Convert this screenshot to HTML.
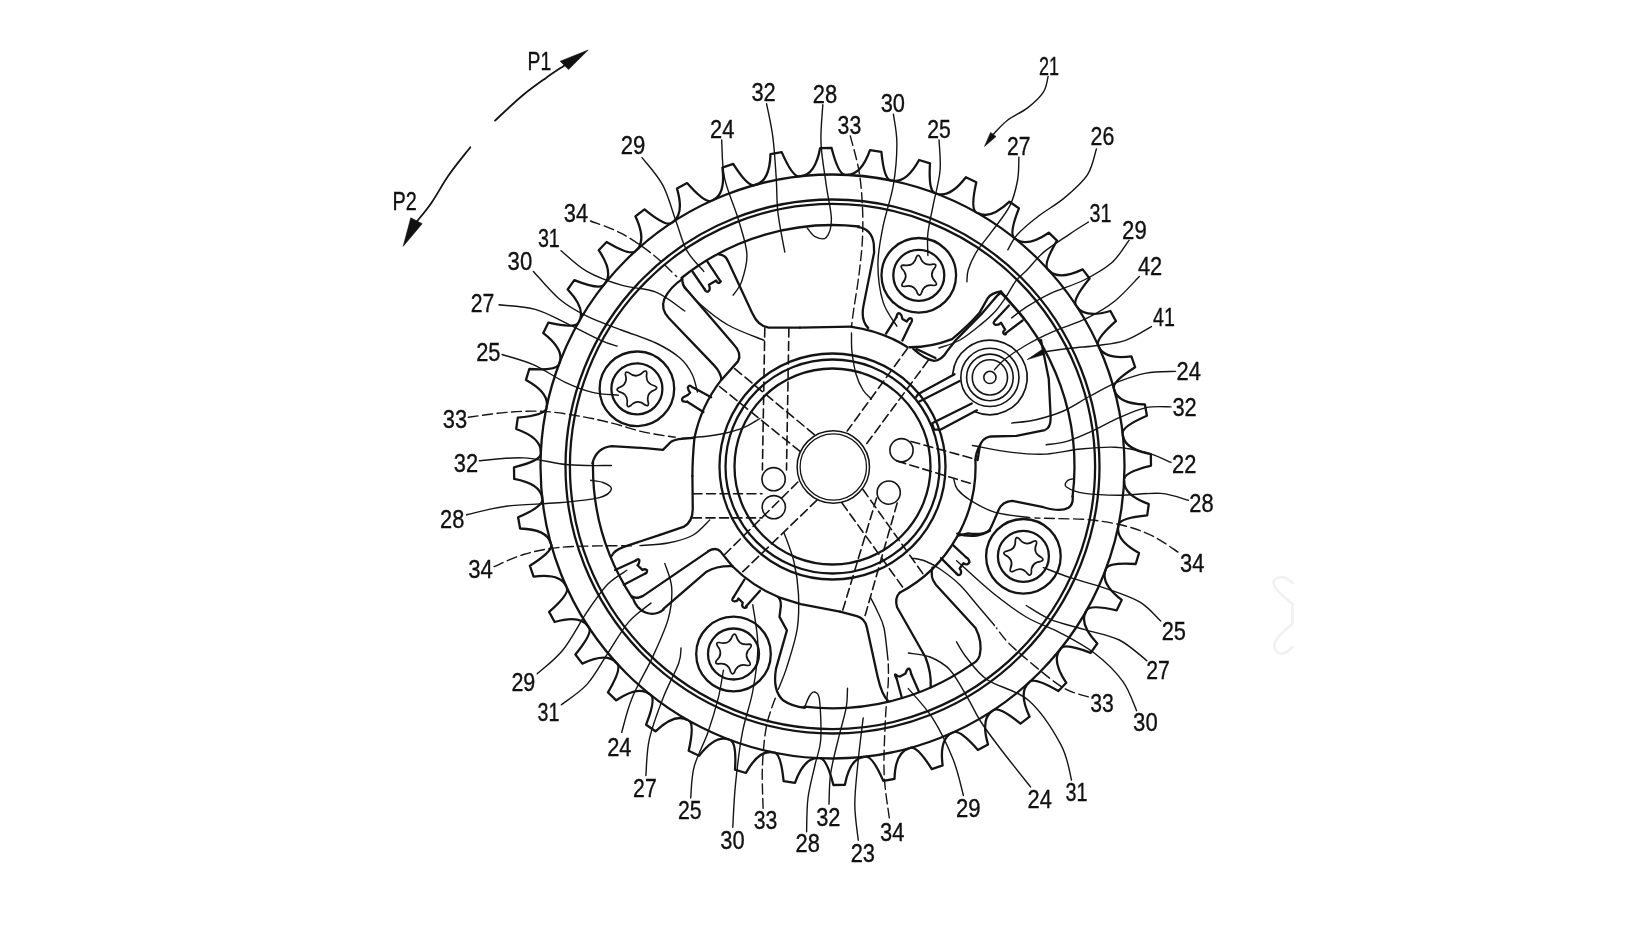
<!DOCTYPE html>
<html><head><meta charset="utf-8"><title>Sprocket</title>
<style>
html,body{margin:0;padding:0;background:#fff;}
body{width:1650px;height:928px;overflow:hidden;font-family:"Liberation Sans",sans-serif;}
svg{display:block;will-change:transform;transform:translateZ(0)}
svg path,svg circle{fill:none;stroke:#141414;stroke-linecap:round}
svg text{font-family:"Liberation Sans",sans-serif;fill:#111;stroke:#111;stroke-width:0.35px}
</style></head><body>
<svg width="1650" height="928" viewBox="0 0 1650 928">
<circle cx="832.5" cy="466.5" r="292.0" stroke-width="2.3"/>
<circle cx="832.5" cy="466.5" r="267.0" stroke-width="2.3"/>
<circle cx="832.5" cy="466.5" r="262.6" stroke-width="2.3"/>
<circle cx="832.5" cy="466.5" r="113.0" stroke-width="2.3"/>
<circle cx="832.5" cy="466.5" r="107.0" stroke-width="2.3"/>
<circle cx="832.5" cy="466.5" r="98.0" stroke-width="2.3"/>
<circle cx="833.3" cy="467.0" r="36.2" stroke-width="1.5"/>
<circle cx="833.3" cy="467.0" r="33.2" stroke-width="1.3"/>
<circle cx="773.6" cy="479.2" r="11.6" stroke-width="1.6"/>
<circle cx="773.8" cy="507.2" r="11.6" stroke-width="1.6"/>
<circle cx="901.5" cy="450.2" r="11.6" stroke-width="1.6"/>
<circle cx="888.7" cy="492.6" r="11.6" stroke-width="1.6"/>
<path d="M801.0 176.2 Q815.2 174.5 820.1 148.2 L831.6 148.0 Q838.1 173.6 844.7 174.8 M846.8 174.8 Q861.0 175.4 870.0 150.2 L881.4 151.8 Q883.9 178.0 890.2 180.3 M892.2 180.7 Q906.2 183.4 919.1 160.0 L930.0 163.3 Q928.4 189.6 934.3 192.8 M936.2 193.5 Q949.6 198.5 965.9 177.3 L976.3 182.3 Q970.5 208.0 975.8 212.1 M977.6 213.1 Q990.1 220.1 1009.5 201.7 L1018.9 208.3 Q1009.2 232.8 1013.9 237.7 M1015.5 238.9 Q1026.7 247.8 1048.8 232.7 L1057.0 240.6 Q1043.6 263.3 1047.4 268.9 M1048.8 270.4 Q1058.5 280.8 1082.7 269.4 L1089.6 278.5 Q1072.8 298.9 1075.7 304.9 M1076.8 306.6 Q1084.8 318.5 1110.4 311.0 L1115.9 321.1 Q1096.1 338.5 1098.0 344.9 M1098.8 346.8 Q1104.8 359.8 1131.4 356.4 L1135.1 367.2 Q1112.8 381.3 1113.7 388.0 M1114.3 389.9 Q1118.2 403.7 1144.9 404.5 L1146.9 415.7 Q1122.7 426.2 1122.6 432.9 M1122.8 435.0 Q1124.5 449.2 1150.8 454.1 L1151.0 465.6 Q1125.4 472.1 1124.2 478.7 M1124.2 480.8 Q1123.6 495.0 1148.8 504.0 L1147.2 515.4 Q1121.0 517.9 1118.7 524.2 M1118.3 526.2 Q1115.6 540.2 1139.0 553.1 L1135.7 564.0 Q1109.4 562.4 1106.2 568.3 M1105.5 570.2 Q1100.5 583.6 1121.7 599.9 L1116.7 610.3 Q1091.0 604.5 1086.9 609.8 M1085.9 611.6 Q1078.9 624.1 1097.3 643.5 L1090.7 652.9 Q1066.2 643.2 1061.3 647.9 M1060.1 649.5 Q1051.2 660.7 1066.3 682.8 L1058.4 691.0 Q1035.7 677.6 1030.1 681.4 M1028.6 682.8 Q1018.2 692.5 1029.6 716.7 L1020.5 723.6 Q1000.1 706.8 994.1 709.7 M992.4 710.8 Q980.5 718.8 988.0 744.4 L977.9 749.9 Q960.5 730.1 954.1 732.0 M952.2 732.8 Q939.2 738.8 942.6 765.4 L931.8 769.1 Q917.7 746.8 911.0 747.7 M909.1 748.3 Q895.3 752.2 894.5 778.9 L883.3 780.9 Q872.8 756.7 866.1 756.6 M864.0 756.8 Q849.8 758.5 844.9 784.8 L833.4 785.0 Q826.9 759.4 820.3 758.2 M818.2 758.2 Q804.0 757.6 795.0 782.8 L783.6 781.2 Q781.1 755.0 774.8 752.7 M772.8 752.3 Q758.8 749.6 745.9 773.0 L735.0 769.7 Q736.6 743.4 730.7 740.2 M728.8 739.5 Q715.4 734.5 699.1 755.7 L688.7 750.7 Q694.5 725.0 689.2 720.9 M687.4 719.9 Q674.9 712.9 655.5 731.3 L646.1 724.7 Q655.8 700.2 651.1 695.3 M649.5 694.1 Q638.3 685.2 616.2 700.3 L608.0 692.4 Q621.4 669.7 617.6 664.1 M616.2 662.6 Q606.5 652.2 582.3 663.6 L575.4 654.5 Q592.2 634.1 589.3 628.1 M588.2 626.4 Q580.2 614.5 554.6 622.0 L549.1 611.9 Q568.9 594.5 567.0 588.1 M566.2 586.2 Q560.2 573.2 533.6 576.6 L529.9 565.8 Q552.2 551.7 551.3 545.0 M550.7 543.1 Q546.8 529.3 520.1 528.5 L518.1 517.3 Q542.3 506.8 542.4 500.1 M542.2 498.0 Q540.5 483.8 514.2 478.9 L514.0 467.4 Q539.6 460.9 540.8 454.3 M540.8 452.2 Q541.4 438.0 516.2 429.0 L517.8 417.6 Q544.0 415.1 546.3 408.8 M546.7 406.8 Q549.4 392.8 526.0 379.9 L529.3 369.0 Q555.6 370.6 558.8 364.7 M559.5 362.8 Q564.5 349.4 543.3 333.1 L548.3 322.7 Q574.0 328.5 578.1 323.2 M579.1 321.4 Q586.1 308.9 567.7 289.5 L574.3 280.1 Q598.8 289.8 603.7 285.1 M604.9 283.5 Q613.8 272.3 598.7 250.2 L606.6 242.0 Q629.3 255.4 634.9 251.6 M636.4 250.2 Q646.8 240.5 635.4 216.3 L644.5 209.4 Q664.9 226.2 670.9 223.3 M672.6 222.2 Q684.5 214.2 677.0 188.6 L687.1 183.1 Q704.5 202.9 710.9 201.0 M712.8 200.2 Q725.8 194.2 722.4 167.6 L733.2 163.9 Q747.3 186.2 754.0 185.3 M755.9 184.7 Q769.7 180.8 770.5 154.1 L781.7 152.1 Q792.2 176.3 798.9 176.4 " stroke-width="2.3" stroke-linejoin="round"/>
<circle cx="918.8" cy="275.3" r="37.3" stroke-width="2.3"/>
<circle cx="918.8" cy="275.3" r="25.5" stroke-width="2.3"/>
<path d="M916.3 257.3 Q918.0 253.7 920.1 257.1 Q923.3 266.9 933.1 264.1 Q937.1 263.9 935.2 267.3 Q928.3 275.0 935.7 282.1 Q937.9 285.4 933.9 285.5 Q923.8 283.4 921.3 293.3 Q919.6 296.9 917.5 293.5 Q914.3 283.7 904.5 286.5 Q900.5 286.7 902.4 283.3 Q909.3 275.6 901.9 268.5 Q899.7 265.2 903.7 265.1 Q913.8 267.2 916.3 257.3 Z" stroke-width="1.7" stroke-linejoin="round"/>
<circle cx="636.9" cy="388.8" r="37.3" stroke-width="2.3"/>
<circle cx="636.9" cy="388.8" r="25.5" stroke-width="2.3"/>
<path d="M654.9 386.0 Q658.5 387.7 655.1 389.8 Q645.4 393.1 648.4 402.9 Q648.7 406.9 645.2 405.0 Q637.4 398.3 630.4 405.8 Q627.1 408.0 627.0 404.1 Q628.9 394.0 618.9 391.6 Q615.3 389.9 618.7 387.8 Q628.4 384.5 625.4 374.7 Q625.1 370.7 628.6 372.6 Q636.4 379.3 643.4 371.8 Q646.7 369.6 646.8 373.5 Q644.9 383.6 654.9 386.0 Z" stroke-width="1.7" stroke-linejoin="round"/>
<circle cx="733.5" cy="654.0" r="37.3" stroke-width="2.3"/>
<circle cx="733.5" cy="654.0" r="25.5" stroke-width="2.3"/>
<path d="M732.5 635.8 Q734.6 632.4 736.3 636.0 Q738.7 646.0 748.8 644.1 Q752.7 644.2 750.5 647.5 Q743.0 654.5 749.7 662.3 Q751.6 665.8 747.6 665.5 Q737.8 662.5 734.5 672.2 Q732.4 675.6 730.7 672.0 Q728.3 662.0 718.2 663.9 Q714.3 663.8 716.5 660.5 Q724.0 653.5 717.3 645.7 Q715.4 642.2 719.4 642.5 Q729.2 645.5 732.5 635.8 Z" stroke-width="1.7" stroke-linejoin="round"/>
<circle cx="1023.4" cy="556.3" r="37.3" stroke-width="2.3"/>
<circle cx="1023.4" cy="556.3" r="25.5" stroke-width="2.3"/>
<path d="M1041.6 557.6 Q1044.7 560.1 1040.9 561.3 Q1030.7 562.4 1031.4 572.7 Q1030.8 576.6 1027.8 574.0 Q1021.8 565.7 1013.2 571.4 Q1009.5 572.8 1010.3 568.9 Q1014.5 559.5 1005.2 555.0 Q1002.1 552.5 1005.9 551.3 Q1016.1 550.2 1015.4 539.9 Q1016.0 536.0 1019.0 538.6 Q1025.0 546.9 1033.6 541.2 Q1037.3 539.8 1036.5 543.7 Q1032.3 553.1 1041.6 557.6 Z" stroke-width="1.7" stroke-linejoin="round"/>
<circle cx="989.9" cy="377.4" r="6.1" stroke-width="1.6"/>
<circle cx="989.9" cy="377.4" r="17.6" stroke-width="1.6"/>
<circle cx="989.9" cy="377.4" r="23.3" stroke-width="1.6"/>
<circle cx="989.9" cy="377.4" r="29.1" stroke-width="1.6"/>
<path d="M681.5 278.0 A241.5 241.5 0 0 1 859.0 226.5" stroke-width="2.3" />
<path d="M1000.3 292.1 A242.0 242.0 0 0 1 1072.6 496.4" stroke-width="2.3" />
<path d="M970.5 665.1 A241.8 241.8 0 0 1 804.3 706.6" stroke-width="2.3" />
<path d="M632.1 597.6 A239.5 239.5 0 0 1 593.0 462.3" stroke-width="2.3" />
<path d="M694.4 438.1 A141.0 141.0 0 0 1 721.1 380.1" stroke-width="2.3" />
<path d="M851.6 326.8 A141.0 141.0 0 0 1 907.2 346.9" stroke-width="2.3" />
<path d="M975.4 460.0 A143.0 143.0 0 0 1 899.6 592.8" stroke-width="2.3" />
<path d="M778.4 597.0 A141.3 141.3 0 0 1 732.4 566.2" stroke-width="2.3" />
<path d="M980 445.2 Q976 452 975.4 460" stroke-width="2.3" />
<path d="M952.7 374.1 A37.3 37.3 0 1 1 975.1 411.7" stroke-width="1.7" />
<path d="M764.8 328 L762.4 470" stroke-width="1.6" stroke-dasharray="9 4.5" stroke-linecap="butt"/>
<path d="M788.9 328 L786.5 470" stroke-width="1.6" stroke-dasharray="9 4.5" stroke-linecap="butt"/>
<path d="M693 493.8 L762 493.8" stroke-width="1.6" stroke-dasharray="9 4.5" stroke-linecap="butt"/>
<path d="M692.5 517.9 L762 517.9" stroke-width="1.6" stroke-dasharray="9 4.5" stroke-linecap="butt"/>
<path d="M734.6 368.6 L814.8 435" stroke-width="1.6" stroke-dasharray="9 4.5" stroke-linecap="butt"/>
<path d="M719.5 386.5 L801 452.2" stroke-width="1.6" stroke-dasharray="9 4.5" stroke-linecap="butt"/>
<path d="M907.6 348.3 L847.2 431" stroke-width="1.6" stroke-dasharray="9 4.5" stroke-linecap="butt"/>
<path d="M928.3 360.3 L864.5 446.6" stroke-width="1.6" stroke-dasharray="9 4.5" stroke-linecap="butt"/>
<path d="M797.9 482 L724.7 554.5" stroke-width="1.6" stroke-dasharray="9 4.5" stroke-linecap="butt"/>
<path d="M816.9 500.2 L742.8 571.7" stroke-width="1.6" stroke-dasharray="9 4.5" stroke-linecap="butt"/>
<path d="M842 503 L904 589" stroke-width="1.6" stroke-dasharray="9 4.5" stroke-linecap="butt"/>
<path d="M862.8 489.3 L923 573.8" stroke-width="1.6" stroke-dasharray="9 4.5" stroke-linecap="butt"/>
<path d="M876.6 498 L842.5 611" stroke-width="1.6" stroke-dasharray="9 4.5" stroke-linecap="butt"/>
<path d="M897.2 503 L865 616" stroke-width="1.6" stroke-dasharray="9 4.5" stroke-linecap="butt"/>
<path d="M911 441.4 L976.2 459.5" stroke-width="1.6" stroke-dasharray="9 4.5" stroke-linecap="butt"/>
<path d="M897 461 L972.5 484" stroke-width="1.6" stroke-dasharray="9 4.5" stroke-linecap="butt"/>
<g transform="translate(640 230) scale(0.172414)">
<path d="M455 141 Q496 141 513 186 L650 480 Q686 560 746 566 L928 566" stroke-width="2.3" vector-effect="non-scaling-stroke" stroke-linejoin="round"/>
<path d="M245 285 L247 306 Q252 332 276 353 L540 660 Q594 716 568 762 L476 866" stroke-width="2.3" vector-effect="non-scaling-stroke" stroke-linejoin="round"/>
<path d="M245 285 Q176 330 141 400 Q118 462 168 512 L430 785 Q470 828 472 868" stroke-width="2.3" vector-effect="non-scaling-stroke" stroke-linejoin="round"/>
<path d="M305 242 L376 345 M390 182 L466 296" stroke-width="2.3" vector-effect="non-scaling-stroke" stroke-linejoin="round"/>
<path d="M376 345 Q384 364 398 355 Q410 345 400 318 L442 293 Q452 313 462 305 Q472 298 466 296" stroke-width="2.3" vector-effect="non-scaling-stroke" stroke-linejoin="round"/>
</g>
<g transform="translate(800 230) scale(0.172414)">
<path d="M338 -17 Q415 -8 428 80 L430 130 L368 440 Q352 525 395 568" stroke-width="2.3" vector-effect="non-scaling-stroke" stroke-linejoin="round"/>
<path d="M0 566 L300 561" stroke-width="2.3" vector-effect="non-scaling-stroke" stroke-linejoin="round"/>
</g>
<g transform="translate(830 300) scale(0.172414)">
<path d="M325 195 L385 100 M420 235 L465 140" stroke-width="2.3" vector-effect="non-scaling-stroke" stroke-linejoin="round"/>
<path d="M385 100 Q390 72 405 78 Q418 88 420 110 L445 125 Q458 100 472 108 Q482 118 465 140" stroke-width="2.3" vector-effect="non-scaling-stroke" stroke-linejoin="round"/>
<path d="M512 545 L722 430 M516 590 L752 470 M592 715 L822 600 M640 752 L852 640 M592 715 L604 752 L640 752 M500 562 L512 545" stroke-width="2.3" vector-effect="non-scaling-stroke" stroke-linejoin="round"/>
</g>
<g transform="translate(890 280) scale(0.129310)">
<path d="M150 520 Q310 522 480 457 Q600 360 691 256 L755 142 Q785 98 858 89" stroke-width="2.3" vector-effect="non-scaling-stroke" stroke-linejoin="round"/>
<path d="M862 96 Q830 112 800 155 L708 262 L508 466 L442 550 Q400 622 340 625 Q270 612 180 532" stroke-width="2.3" vector-effect="non-scaling-stroke" stroke-linejoin="round"/>
<path d="M205 534 L352 603" stroke-width="2.3" vector-effect="non-scaling-stroke" stroke-linejoin="round"/>
<path d="M858 89 L928 172" stroke-width="2.3" vector-effect="non-scaling-stroke" stroke-linejoin="round"/>
</g>
<g transform="translate(960 230) scale(0.172414)">
<path d="M284 438 L203 525 M363 525 L266 598" stroke-width="2.3" vector-effect="non-scaling-stroke" stroke-linejoin="round"/>
<path d="M250 372 L372 515" stroke-width="2.3" vector-effect="non-scaling-stroke" stroke-linejoin="round"/>
<path d="M203 525 Q186 540 205 550 Q226 552 238 538 L262 578 Q242 592 256 604 Q270 608 266 598" stroke-width="2.3" vector-effect="non-scaling-stroke" stroke-linejoin="round"/>
</g>
<g transform="translate(900 340) scale(0.129345)">
<path d="M1090 0 L1150 300 L1165 600 Q1165 682 1120 696 L900 742 L700 746 Q628 760 616 830 L600 928" stroke-width="2.3" vector-effect="non-scaling-stroke" stroke-linejoin="round"/>
</g>
<g transform="translate(940 400) scale(0.172414)">
<path d="M100 775 Q150 792 215 786 Q285 776 300 730 L335 650 Q355 588 420 585 L600 622 Q700 652 745 625 Q775 605 769 559" stroke-width="2.3" vector-effect="non-scaling-stroke" stroke-linejoin="round"/>
</g>
<g transform="translate(560 390) scale(0.172414)">
<path d="M780 275 Q768 400 768 500" stroke-width="2.3" vector-effect="non-scaling-stroke" stroke-linejoin="round"/>
<path d="M775 278 L689 285 Q660 290 644 300 L597 347 L509 338 L300 326 Q212 335 188 425" stroke-width="2.3" vector-effect="non-scaling-stroke" stroke-linejoin="round"/>
</g>
<g transform="translate(660 470) scale(0.172414)">
<path d="M188 36 L190 230 Q188 300 140 328 L0 376" stroke-width="2.3" vector-effect="non-scaling-stroke" stroke-linejoin="round"/>
<path d="M280 470 Q325 445 350 472 L420 558" stroke-width="2.3" vector-effect="non-scaling-stroke" stroke-linejoin="round"/>
<path d="M20 806 L270 590 Q330 555 420 558" stroke-width="2.3" vector-effect="non-scaling-stroke" stroke-linejoin="round"/>
<path d="M490 635 L425 740 M580 700 L500 790" stroke-width="2.3" vector-effect="non-scaling-stroke" stroke-linejoin="round"/>
<path d="M425 740 Q410 760 432 762 Q452 760 455 745 L480 770 Q470 795 490 800 Q508 798 500 790" stroke-width="2.3" vector-effect="non-scaling-stroke" stroke-linejoin="round"/>
</g>
<g transform="translate(560 520) scale(0.172414)">
<path d="M580 86 L370 156 Q315 175 300 208" stroke-width="2.3" vector-effect="non-scaling-stroke" stroke-linejoin="round"/>
<path d="M419 444 Q444 460 482 440 L860 182" stroke-width="2.3" vector-effect="non-scaling-stroke" stroke-linejoin="round"/>
<path d="M421 447 Q445 520 500 538 Q555 556 600 520" stroke-width="2.3" vector-effect="non-scaling-stroke" stroke-linejoin="round"/>
<path d="M320 290 L440 235 M370 375 L495 310" stroke-width="2.3" vector-effect="non-scaling-stroke" stroke-linejoin="round"/>
<path d="M440 235 Q450 222 460 232 Q462 250 450 262 L478 290 Q495 280 505 292 Q505 310 495 310" stroke-width="2.3" vector-effect="non-scaling-stroke" stroke-linejoin="round"/>
</g>
<g transform="translate(680 560) scale(0.172414)">
<path d="M570 215 Q592 240 582 290 L577 330 L620 408 L557 630 Q535 760 600 815 Q650 850 725 857" stroke-width="2.3" vector-effect="non-scaling-stroke" stroke-linejoin="round"/>
<path d="M570 215 L700 256 L928 300" stroke-width="2.3" vector-effect="non-scaling-stroke" stroke-linejoin="round"/>
</g>
<g transform="translate(800 580) scale(0.172414)">
<path d="M232 184 L330 210 Q378 225 388 275 L450 560 Q475 670 512 702" stroke-width="2.3" vector-effect="non-scaling-stroke" stroke-linejoin="round"/>
<path d="M590 680 L560 570 M690 648 L645 545" stroke-width="2.3" vector-effect="non-scaling-stroke" stroke-linejoin="round"/>
<path d="M560 570 Q545 545 555 548 Q565 560 580 560 L612 542 Q622 510 634 514 Q640 520 645 545" stroke-width="2.3" vector-effect="non-scaling-stroke" stroke-linejoin="round"/>
</g>
<g transform="translate(860 540) scale(0.172414)">
<path d="M420 160 Q405 215 440 260 L670 510 Q712 590 694 670 Q684 705 641 725" stroke-width="2.3" vector-effect="non-scaling-stroke" stroke-linejoin="round"/>
<path d="M230 306 Q200 335 215 390 L380 680 Q415 770 410 855" stroke-width="2.3" vector-effect="non-scaling-stroke" stroke-linejoin="round"/>
<path d="M470 105 L560 195 M540 30 L615 100" stroke-width="2.3" vector-effect="non-scaling-stroke" stroke-linejoin="round"/>
<path d="M560 195 Q575 212 585 195 Q590 178 578 165 L600 135 Q625 150 635 128 Q632 108 615 100" stroke-width="2.3" vector-effect="non-scaling-stroke" stroke-linejoin="round"/>
</g>
<g transform="translate(830 460) scale(0.172414)">
<path d="M928 410 Q880 438 800 425 L745 438" stroke-width="2.3" vector-effect="non-scaling-stroke" stroke-linejoin="round"/>
</g>
<g transform="translate(640 350) scale(0.129310)">
<path d="M550 365 L430 300 M490 480 L365 400" stroke-width="2.3" vector-effect="non-scaling-stroke" stroke-linejoin="round"/>
<path d="M430 300 L402 286 Q382 264 370 290 Q374 320 388 330 Q372 352 345 360 Q315 376 330 396 Q350 402 365 400" stroke-width="2.3" vector-effect="non-scaling-stroke" stroke-linejoin="round"/>
</g>
<path d="M1292.5 583 Q1281 572 1273.5 581 Q1272 588 1292.5 604 L1292.5 624 Q1272 640 1274.5 648 Q1280 660 1292.5 647" style="stroke:#f1f1f1" stroke-width="2.6"/>
<path d="M642.0 157.6 C645.5 162.2 657.0 174.3 662.8 185.2 C668.6 196.1 672.6 212.2 676.6 223.1 C680.6 234.0 682.4 242.6 686.9 250.7 C691.4 258.8 701.0 267.9 703.8 271.4" stroke-width="1.4" />
<path d="M590.5 221.0 C595.6 223.1 611.1 227.9 621.4 233.4 C631.7 238.9 643.2 246.9 652.4 254.1 C661.6 261.3 672.6 272.9 676.6 276.6" stroke-width="1.4" stroke-dasharray="10 4.5" stroke-linecap="butt"/>
<path d="M683.1 284.8 C685.9 288.0 692.5 297.3 700.0 304.0 C707.5 310.7 717.3 318.9 728.0 325.0 C738.7 331.1 758.1 337.8 764.1 340.3" stroke-width="1.4" />
<path d="M561.0 250.7 C565.3 254.1 576.8 265.6 586.9 271.4 C597.0 277.1 609.9 281.8 621.4 285.2 C632.9 288.6 645.3 287.8 655.9 292.1 C666.5 296.4 680.0 307.9 684.8 311.0" stroke-width="1.4" />
<path d="M533.4 271.4 C537.7 276.0 550.4 291.5 559.3 299.0 C568.2 306.5 576.5 311.0 586.9 316.2 C597.2 321.4 609.9 325.5 621.4 330.0 C632.9 334.5 646.1 338.3 655.9 343.0 C665.7 347.7 674.0 352.8 680.0 358.0 C686.0 363.2 689.1 368.3 692.0 374.0 C694.9 379.7 696.6 389.0 697.5 392.0" stroke-width="1.4" />
<path d="M499.0 304.8 C505.0 305.6 524.0 306.2 535.2 309.3 C546.4 312.4 555.3 317.9 566.2 323.1 C577.1 328.3 592.2 336.5 600.7 340.3 C609.2 344.1 614.3 345.1 617.0 346.0" stroke-width="1.4" />
<path d="M502.1 354.5 C507.4 356.2 523.3 360.2 533.8 364.8 C544.2 369.4 555.0 377.5 564.8 382.1 C574.6 386.7 583.5 390.2 592.4 392.4 C601.3 394.6 614.0 394.7 618.3 395.2" stroke-width="1.4" />
<path d="M468.3 417.2 C474.6 416.4 493.6 413.4 506.2 412.4 C518.8 411.4 531.5 410.7 544.1 411.4 C556.8 412.1 570.6 414.6 582.1 416.6 C593.6 418.6 602.8 420.8 613.1 423.4 C623.4 426.0 633.8 429.8 644.1 432.1 C654.5 434.4 670.0 436.4 675.2 437.2" stroke-width="1.4" stroke-dasharray="10 4.5" stroke-linecap="butt"/>
<path d="M682.0 438.2 C685.8 437.9 697.8 437.3 705.0 436.5 C712.2 435.7 718.6 434.7 725.0 433.2 C731.4 431.7 737.7 430.1 743.5 427.6 C749.3 425.2 757.2 420.0 760.0 418.5" stroke-width="1.4" />
<path d="M479.3 460.7 C486.6 460.2 508.6 457.2 523.4 457.9 C538.2 458.6 553.6 463.5 568.3 464.8 C583.0 466.1 604.2 465.4 611.4 465.5" stroke-width="1.4" />
<path d="M466.6 514.8 C473.2 513.4 491.0 508.2 506.2 506.2 C521.4 504.2 542.4 504.2 557.9 502.8 C573.4 501.4 590.4 499.9 599.3 497.6 C608.2 495.3 610.8 491.5 611.4 489.0 C612.0 486.5 606.5 483.9 603.0 482.5 C599.5 481.1 592.8 480.7 590.7 480.3" stroke-width="1.4" />
<path d="M494.1 566.6 C499.0 564.6 512.8 557.7 523.4 554.5 C534.0 551.3 545.2 549.0 557.9 547.6 C570.5 546.2 586.6 546.2 599.3 545.9 C612.0 545.6 628.2 545.9 634.0 545.9" stroke-width="1.4" stroke-dasharray="10 4.5" stroke-linecap="butt"/>
<path d="M640.0 545.6 C644.7 545.2 659.3 544.7 668.0 543.0 C676.7 541.3 685.4 539.3 692.4 535.5 C699.4 531.7 706.8 522.6 709.7 520.0" stroke-width="1.4" />
<path d="M537.2 673.8 C541.5 669.8 554.8 660.1 563.1 649.7 C571.4 639.4 579.7 622.6 587.2 611.7 C594.7 600.8 601.3 591.0 607.9 584.1 C614.5 577.2 623.7 572.6 626.9 570.3" stroke-width="1.4" />
<path d="M561.4 704.8 C565.7 701.3 579.5 692.7 587.2 684.1 C595.0 675.5 601.0 663.4 607.9 653.1 C614.8 642.8 621.4 630.4 628.6 622.1 C635.8 613.8 647.3 606.3 651.0 603.1" stroke-width="1.4" />
<path d="M621.7 732.4 C623.4 726.6 626.9 710.5 632.1 697.9 C637.3 685.3 646.8 669.8 652.8 656.6 C658.8 643.4 665.1 630.1 668.3 618.6 C671.4 607.1 672.3 596.8 671.7 587.6 C671.1 578.4 665.9 567.4 664.8 563.4" stroke-width="1.4" />
<path d="M645.9 775.5 C646.5 769.5 646.4 752.2 649.3 739.3 C652.2 726.4 658.2 710.5 663.1 697.9 C668.0 685.2 675.6 671.7 678.6 663.4 C681.6 655.1 680.6 650.5 681.0 647.9" stroke-width="1.4" />
<path d="M690.7 797.9 C691.3 792.7 691.2 777.8 694.1 766.9 C697.0 756.0 703.9 743.9 707.9 732.4 C711.9 720.9 715.7 708.2 718.3 697.9 C720.9 687.5 722.5 674.9 723.4 670.3" stroke-width="1.4" />
<path d="M732.8 827.2 C733.2 820.0 733.9 799.9 735.5 784.1 C737.1 768.3 739.5 747.9 742.4 732.4 C745.3 716.9 750.2 705.4 752.8 691.0 C755.4 676.6 757.9 660.6 757.9 646.2 C757.9 631.8 753.6 611.7 752.8 604.8" stroke-width="1.4" />
<path d="M763.1 808.3 C763.0 801.4 761.8 780.7 762.4 766.9 C763.0 753.1 764.2 737.6 766.6 725.5 C769.0 713.4 774.9 699.7 776.6 694.5" stroke-width="1.4" stroke-dasharray="10 4.5" stroke-linecap="butt"/>
<path d="M778.3 689.3 C779.7 685.6 783.8 676.9 786.9 666.9 C790.0 656.9 795.3 641.1 797.2 629.0 C799.1 616.9 799.0 605.7 798.5 594.5 C798.0 583.3 796.4 572.3 794.0 562.0 C791.6 551.7 785.8 537.8 784.1 532.9" stroke-width="1.4" />
<path d="M805.2 706.0 C805.9 704.3 808.0 698.3 809.5 696.0 C811.0 693.7 812.8 691.3 814.5 692.0 C816.2 692.7 818.5 692.0 819.5 700.0 C820.5 708.0 821.5 729.2 820.7 740.0 C820.0 750.8 817.1 755.3 815.0 765.0 C812.9 774.7 809.4 786.9 808.0 798.0 C806.6 809.1 806.8 826.1 806.6 831.7" stroke-width="1.4" />
<path d="M829.0 804.1 C829.3 798.9 829.0 784.6 830.7 773.1 C832.4 761.6 836.7 746.1 839.3 735.2 C841.9 724.3 844.8 715.4 846.2 707.6 C847.6 699.8 847.3 691.4 847.5 688.2" stroke-width="1.4" />
<path d="M858.3 840.3 C857.7 834.3 854.8 817.6 854.8 804.1 C854.8 790.6 856.9 773.7 858.3 759.3 C859.7 744.9 862.4 724.8 863.2 717.9" stroke-width="1.4" />
<path d="M889.3 817.9 C888.4 810.4 884.7 789.8 884.1 773.1 C883.5 756.4 884.8 732.9 885.5 717.9 C886.2 702.9 887.7 692.4 888.2 683.4 C888.7 674.4 888.3 667.2 888.3 664.0" stroke-width="1.4" stroke-dasharray="10 4.5" stroke-linecap="butt"/>
<path d="M888.0 660.0 C887.3 654.7 885.8 636.2 884.0 628.0 C882.2 619.8 879.5 616.1 877.2 611.0 C875.0 605.9 871.6 599.8 870.5 597.5" stroke-width="1.4" />
<path d="M963.4 795.5 C961.7 789.5 958.3 772.2 953.1 759.3 C947.9 746.4 939.9 729.7 932.4 717.9 C924.9 706.1 912.3 693.5 908.3 688.6" stroke-width="1.4" />
<path d="M1030.5 786.9 C1025.7 780.8 1009.6 760.8 1001.4 750.0 C993.1 739.2 986.6 730.6 981.0 722.0 C975.4 713.4 973.1 707.0 967.9 698.3 C962.7 689.6 956.1 676.7 949.8 669.8 C943.5 662.9 936.9 659.8 930.0 657.0 C923.1 654.2 912.0 653.7 908.4 653.0" stroke-width="1.4" />
<path d="M1071.5 780.0 C1069.8 774.1 1068.1 758.0 1061.0 744.8 C1053.9 731.6 1041.2 711.5 1029.0 700.7 C1016.8 689.9 998.0 687.1 987.6 680.0 C977.2 672.9 972.1 664.4 966.9 658.0 C961.7 651.6 958.2 644.5 956.5 641.8" stroke-width="1.4" />
<path d="M1160.7 621.0 C1157.2 617.9 1149.2 607.6 1140.0 602.1 C1130.8 596.6 1117.0 592.3 1105.5 588.3 C1094.0 584.3 1081.3 581.3 1071.0 577.9 C1060.7 574.5 1048.0 569.3 1043.4 567.6" stroke-width="1.4" />
<path d="M1146.9 660.7 C1142.3 657.2 1129.7 645.2 1119.3 640.0 C1108.9 634.8 1096.3 633.2 1084.8 629.7 C1073.3 626.2 1060.1 623.3 1050.3 619.3 C1040.5 615.3 1030.2 607.8 1026.2 605.5" stroke-width="1.4" />
<path d="M1088.3 696.9 C1084.3 695.5 1072.7 693.2 1064.1 688.3 C1055.5 683.4 1045.8 675.1 1036.6 667.6 C1027.4 660.1 1015.7 650.0 1009.0 643.4 C1002.3 636.8 998.6 630.6 996.5 628.0" stroke-width="1.4" stroke-dasharray="10 4.5" stroke-linecap="butt"/>
<path d="M994.5 625.5 C991.8 622.2 983.8 612.8 978.0 606.0 C972.2 599.2 966.3 591.2 960.0 585.0 C953.7 578.8 945.8 573.0 940.0 569.0 C934.2 565.0 929.7 562.8 925.0 561.0 C920.3 559.2 913.9 558.6 911.7 558.1" stroke-width="1.4" />
<path d="M1136.6 710.7 C1134.3 705.8 1129.7 690.9 1122.8 681.4 C1115.9 671.9 1105.5 661.8 1095.2 653.8 C1084.9 645.8 1072.2 639.2 1060.7 633.1 C1049.2 627.0 1037.7 623.9 1026.2 617.0 C1014.7 610.1 1003.3 601.4 991.7 592.0 C980.1 582.6 962.5 565.9 956.6 560.7" stroke-width="1.4" />
<path d="M1171.0 462.4 C1166.9 460.7 1155.5 454.9 1146.2 452.4 C1136.9 449.9 1126.1 447.8 1115.2 447.2 C1104.3 446.6 1092.2 447.9 1080.7 449.0 C1069.2 450.1 1057.7 453.5 1046.2 454.1 C1034.7 454.7 1024.0 453.8 1011.7 452.4 C999.4 451.0 979.0 446.6 972.5 445.5" stroke-width="1.4" />
<path d="M1188.3 500.3 C1183.7 499.1 1172.2 494.2 1160.7 493.4 C1149.2 492.5 1132.0 495.2 1119.3 495.2 C1106.6 495.2 1093.6 494.8 1084.8 493.4 C1076.0 492.0 1069.4 489.1 1066.5 487.0 C1063.6 484.9 1066.3 481.9 1067.6 480.5 C1068.9 479.1 1073.3 478.9 1074.5 478.6" stroke-width="1.4" />
<path d="M1177.9 552.1 C1173.9 549.5 1162.4 540.9 1153.8 536.6 C1145.2 532.3 1136.5 529.0 1126.2 526.2 C1115.9 523.4 1103.2 521.3 1091.7 520.0 C1080.2 518.7 1066.7 518.9 1057.2 518.6 C1047.8 518.3 1038.7 518.1 1035.0 518.0" stroke-width="1.4" stroke-dasharray="10 4.5" stroke-linecap="butt"/>
<path d="M1029.7 517.6 C1024.0 516.7 1005.2 515.3 995.2 512.4 C985.2 509.5 976.3 503.9 970.0 500.0 C963.7 496.1 959.9 492.4 957.2 489.0 C954.5 485.6 954.4 480.9 953.8 479.3" stroke-width="1.4" />
<path d="M1175.5 371.4 C1170.6 371.7 1155.7 371.4 1146.2 373.1 C1136.7 374.8 1127.8 378.0 1118.6 381.7 C1109.4 385.4 1100.2 390.6 1091.0 395.5 C1081.8 400.4 1072.6 407.0 1063.4 411.0 C1054.2 415.0 1044.5 417.7 1035.9 419.7 C1027.3 421.7 1015.7 422.5 1011.7 423.1" stroke-width="1.4" />
<path d="M1171.0 406.9 C1166.9 407.0 1154.9 405.8 1146.2 407.6 C1137.5 409.4 1127.8 413.9 1118.6 417.9 C1109.4 421.9 1099.6 427.8 1091.0 431.7 C1082.4 435.6 1074.4 439.2 1066.9 441.4 C1059.4 443.6 1049.7 444.2 1046.2 444.8" stroke-width="1.4" />
<path d="M1151.4 326.6 C1147.1 328.9 1134.4 337.2 1125.5 340.3 C1116.6 343.4 1107.1 344.2 1097.9 345.5 C1088.7 346.8 1080.0 347.1 1070.3 348.3 C1060.6 349.5 1045.0 351.8 1040.0 352.5" stroke-width="1.4" />
<path d="M1139.3 276.6 C1135.3 280.6 1123.8 293.8 1115.2 300.7 C1106.6 307.6 1097.9 312.7 1087.6 317.9 C1077.2 323.1 1063.4 327.1 1053.1 331.7 C1042.8 336.3 1033.5 340.9 1025.5 345.5 C1017.5 350.1 1010.0 355.3 1004.8 359.3 C999.6 363.3 996.2 368.0 994.5 369.7" stroke-width="1.4" />
<path d="M1129.0 240.3 C1126.1 244.1 1119.2 256.2 1111.7 262.8 C1104.2 269.4 1094.4 274.8 1084.1 280.0 C1073.8 285.2 1059.5 289.2 1049.7 293.8 C1039.9 298.4 1031.8 303.6 1025.5 307.6 C1019.2 311.6 1014.0 316.2 1011.7 317.9" stroke-width="1.4" />
<path d="M1088.3 222.1 C1085.1 224.1 1076.8 229.2 1069.3 234.3 C1061.8 239.4 1050.5 246.5 1043.4 252.4 C1036.4 258.4 1031.6 265.3 1027.0 270.0 C1022.4 274.7 1019.6 276.1 1016.0 280.8 C1012.4 285.5 1008.7 293.0 1005.3 298.0 C1001.9 303.0 999.5 306.7 995.6 311.0 C991.7 315.3 987.5 319.1 981.6 323.9 C975.7 328.7 967.1 336.0 960.0 340.0 C952.9 344.0 942.5 346.7 939.0 348.0" stroke-width="1.4" />
<path d="M1096.4 149.0 C1094.9 153.3 1092.8 166.6 1087.4 174.8 C1082.0 183.0 1072.3 191.2 1064.1 198.1 C1055.9 205.0 1046.0 210.2 1038.3 216.2 C1030.5 222.2 1022.7 228.7 1017.6 234.3 C1012.5 239.9 1009.4 247.2 1007.8 249.8" stroke-width="1.4" />
<path d="M1018.9 157.2 C1018.7 161.0 1019.1 171.9 1017.6 180.0 C1016.1 188.1 1014.1 197.3 1009.8 205.9 C1005.5 214.5 997.3 223.9 991.7 231.7 C986.1 239.4 980.1 246.0 976.2 252.4 C972.3 258.8 969.8 265.1 968.2 270.0 C966.7 274.9 967.1 279.8 966.9 281.7" stroke-width="1.4" />
<path d="M1048.1 76.5 C1047.3 79.1 1046.8 86.9 1043.4 92.1 C1040.0 97.3 1033.9 102.9 1027.9 107.6 C1021.9 112.3 1013.0 116.0 1007.2 120.5 C1001.4 125.0 995.4 132.2 993.0 134.5" stroke-width="1.4" />
<path d="M766.6 103.8 C767.6 109.3 771.2 124.2 772.8 136.6 C774.4 148.9 775.4 165.3 776.2 177.9 C777.1 190.5 776.5 200.0 777.9 212.4 C779.3 224.8 783.6 245.5 784.8 252.1" stroke-width="1.4" />
<path d="M822.8 104.8 C822.5 111.2 820.4 130.1 821.0 143.4 C821.6 156.7 824.5 172.2 826.2 184.8 C827.9 197.5 831.4 210.5 831.4 219.3 C831.4 228.1 828.9 234.6 826.2 237.5 C823.5 240.4 818.2 238.2 815.0 236.6 C811.8 235.0 808.5 229.3 807.2 227.9" stroke-width="1.4" />
<path d="M893.4 114.1 C894.0 119.0 896.9 131.6 896.9 143.4 C896.9 155.2 895.7 171.0 893.4 184.8 C891.1 198.6 885.7 213.0 883.1 226.2 C880.5 239.4 877.9 251.5 877.9 264.1 C877.9 276.8 879.9 291.8 883.1 302.1 C886.3 312.5 894.6 322.2 896.9 326.2" stroke-width="1.4" />
<path d="M721.7 140.0 C722.2 146.3 721.7 164.7 724.5 177.9 C727.3 191.1 734.6 206.7 738.3 219.3 C742.0 232.0 746.3 243.5 746.9 253.8 C747.5 264.1 744.0 274.5 741.7 281.4 C739.4 288.3 734.5 292.9 733.1 295.2" stroke-width="1.4" />
<path d="M850.3 135.9 C851.8 141.8 857.0 159.4 859.0 171.0 C861.0 182.6 861.8 194.0 862.4 205.5 C863.0 217.0 863.0 228.5 862.4 240.0 C861.8 251.5 860.4 263.0 859.0 274.5 C857.6 286.0 855.0 300.4 853.8 309.0 C852.5 317.6 851.9 323.2 851.5 326.0" stroke-width="1.4" stroke-dasharray="10 4.5" stroke-linecap="butt"/>
<path d="M851.5 333.0 C851.6 336.2 851.2 345.2 852.0 352.0 C852.8 358.8 854.2 367.7 856.0 374.0 C857.8 380.3 860.4 385.8 863.0 390.0 C865.6 394.2 870.0 397.6 871.4 399.1" stroke-width="1.4" />
<path d="M939.0 140.0 C939.2 145.2 941.0 160.1 940.0 171.0 C939.0 181.9 935.1 195.2 933.1 205.5 C931.1 215.8 928.8 224.8 927.9 233.1 C927.0 241.4 927.9 251.8 927.9 255.5" stroke-width="1.4" />
<path d="M495.0 120.6 C499.5 116.4 513.7 102.8 522.2 95.7 C530.7 88.6 538.7 83.1 546.0 77.9 C553.3 72.7 562.7 66.7 566.0 64.4" stroke-width="1.8" />
<path d="M470.3 147.2 C466.8 151.8 455.4 165.6 449.0 174.8 C442.6 184.0 437.1 194.5 431.7 202.4 C426.3 210.3 419.0 218.7 416.5 222.0" stroke-width="1.8" />
<polygon points="588.2,50.0 560.2,61.3 568.5,69.6" fill="#111" stroke="#111" stroke-width="0.6" stroke-linejoin="round"/>
<polygon points="403.2,246.3 410.8,217.8 422.2,223.7" fill="#111" stroke="#111" stroke-width="0.6" stroke-linejoin="round"/>
<polygon points="984.5,146.4 990.6,132.4 996.0,136.6" fill="#111" stroke="#111" stroke-width="0.6" stroke-linejoin="round"/>
<polygon points="1027.2,359.6 1042.5,349.3 1044.0,354.5" fill="#111" stroke="#111" stroke-width="0.6" stroke-linejoin="round"/>
<g opacity="0.995">
<text x="527.6" y="69.7" font-size="25.0" textLength="23.6" lengthAdjust="spacingAndGlyphs">P1</text>
<text x="392.4" y="210.0" font-size="25.0" textLength="24.3" lengthAdjust="spacingAndGlyphs">P2</text>
<text x="1038.9" y="74.5" font-size="25.0" textLength="20.0" lengthAdjust="spacingAndGlyphs">21</text>
<text x="751.4" y="101.4" font-size="25.0" textLength="24.3" lengthAdjust="spacingAndGlyphs">32</text>
<text x="812.7" y="102.8" font-size="25.0" textLength="24.4" lengthAdjust="spacingAndGlyphs">28</text>
<text x="880.7" y="112.4" font-size="25.0" textLength="24.3" lengthAdjust="spacingAndGlyphs">30</text>
<text x="710.0" y="138.3" font-size="25.0" textLength="24.3" lengthAdjust="spacingAndGlyphs">24</text>
<text x="837.6" y="133.8" font-size="25.0" textLength="23.6" lengthAdjust="spacingAndGlyphs">33</text>
<text x="927.2" y="138.3" font-size="25.0" textLength="23.6" lengthAdjust="spacingAndGlyphs">25</text>
<text x="620.7" y="154.1" font-size="25.0" textLength="24.6" lengthAdjust="spacingAndGlyphs">29</text>
<text x="1007.1" y="155.4" font-size="25.0" textLength="23.4" lengthAdjust="spacingAndGlyphs">27</text>
<text x="1090.6" y="145.1" font-size="25.0" textLength="23.7" lengthAdjust="spacingAndGlyphs">26</text>
<text x="563.8" y="222.0" font-size="25.0" textLength="24.3" lengthAdjust="spacingAndGlyphs">34</text>
<text x="537.9" y="247.2" font-size="25.0" textLength="21.9" lengthAdjust="spacingAndGlyphs">31</text>
<text x="507.6" y="270.3" font-size="25.0" textLength="24.6" lengthAdjust="spacingAndGlyphs">30</text>
<text x="470.7" y="311.7" font-size="25.0" textLength="23.6" lengthAdjust="spacingAndGlyphs">27</text>
<text x="476.2" y="361.4" font-size="25.0" textLength="24.3" lengthAdjust="spacingAndGlyphs">25</text>
<text x="442.7" y="428.3" font-size="25.0" textLength="24.4" lengthAdjust="spacingAndGlyphs">33</text>
<text x="453.8" y="472.4" font-size="25.0" textLength="24.3" lengthAdjust="spacingAndGlyphs">32</text>
<text x="440.0" y="528.3" font-size="25.0" textLength="24.3" lengthAdjust="spacingAndGlyphs">28</text>
<text x="468.3" y="577.6" font-size="25.0" textLength="24.6" lengthAdjust="spacingAndGlyphs">34</text>
<text x="1089.6" y="222.1" font-size="25.0" textLength="21.9" lengthAdjust="spacingAndGlyphs">31</text>
<text x="1122.1" y="239.3" font-size="25.0" textLength="24.6" lengthAdjust="spacingAndGlyphs">29</text>
<text x="1137.9" y="274.8" font-size="25.0" textLength="24.3" lengthAdjust="spacingAndGlyphs">42</text>
<text x="1153.1" y="325.5" font-size="25.0" textLength="21.9" lengthAdjust="spacingAndGlyphs">41</text>
<text x="1176.5" y="380.0" font-size="25.0" textLength="24.3" lengthAdjust="spacingAndGlyphs">24</text>
<text x="1172.4" y="415.5" font-size="25.0" textLength="24.3" lengthAdjust="spacingAndGlyphs">32</text>
<text x="1172.1" y="473.4" font-size="25.0" textLength="24.3" lengthAdjust="spacingAndGlyphs">22</text>
<text x="1189.3" y="511.7" font-size="25.0" textLength="24.3" lengthAdjust="spacingAndGlyphs">28</text>
<text x="1180.0" y="572.1" font-size="25.0" textLength="24.3" lengthAdjust="spacingAndGlyphs">34</text>
<text x="1161.7" y="640.0" font-size="25.0" textLength="24.3" lengthAdjust="spacingAndGlyphs">25</text>
<text x="1146.2" y="679.0" font-size="25.0" textLength="23.6" lengthAdjust="spacingAndGlyphs">27</text>
<text x="1090.3" y="712.4" font-size="25.0" textLength="23.6" lengthAdjust="spacingAndGlyphs">33</text>
<text x="1133.1" y="730.7" font-size="25.0" textLength="24.6" lengthAdjust="spacingAndGlyphs">30</text>
<text x="511.4" y="691.0" font-size="25.0" textLength="23.9" lengthAdjust="spacingAndGlyphs">29</text>
<text x="537.6" y="721.4" font-size="25.0" textLength="21.9" lengthAdjust="spacingAndGlyphs">31</text>
<text x="607.2" y="755.5" font-size="25.0" textLength="24.3" lengthAdjust="spacingAndGlyphs">24</text>
<text x="633.1" y="797.2" font-size="25.0" textLength="23.6" lengthAdjust="spacingAndGlyphs">27</text>
<text x="677.9" y="819.3" font-size="25.0" textLength="23.6" lengthAdjust="spacingAndGlyphs">25</text>
<text x="720.3" y="849.0" font-size="25.0" textLength="24.3" lengthAdjust="spacingAndGlyphs">30</text>
<text x="753.8" y="829.0" font-size="25.0" textLength="23.6" lengthAdjust="spacingAndGlyphs">33</text>
<text x="795.5" y="852.4" font-size="25.0" textLength="24.3" lengthAdjust="spacingAndGlyphs">28</text>
<text x="816.2" y="825.5" font-size="25.0" textLength="24.3" lengthAdjust="spacingAndGlyphs">32</text>
<text x="850.7" y="862.1" font-size="25.0" textLength="24.3" lengthAdjust="spacingAndGlyphs">23</text>
<text x="880.0" y="841.4" font-size="25.0" textLength="24.3" lengthAdjust="spacingAndGlyphs">34</text>
<text x="955.9" y="817.2" font-size="25.0" textLength="24.6" lengthAdjust="spacingAndGlyphs">29</text>
<text x="1027.6" y="808.3" font-size="25.0" textLength="24.3" lengthAdjust="spacingAndGlyphs">24</text>
<text x="1065.5" y="801.4" font-size="25.0" textLength="22.0" lengthAdjust="spacingAndGlyphs">31</text>
</g>

</svg>
</body></html>
